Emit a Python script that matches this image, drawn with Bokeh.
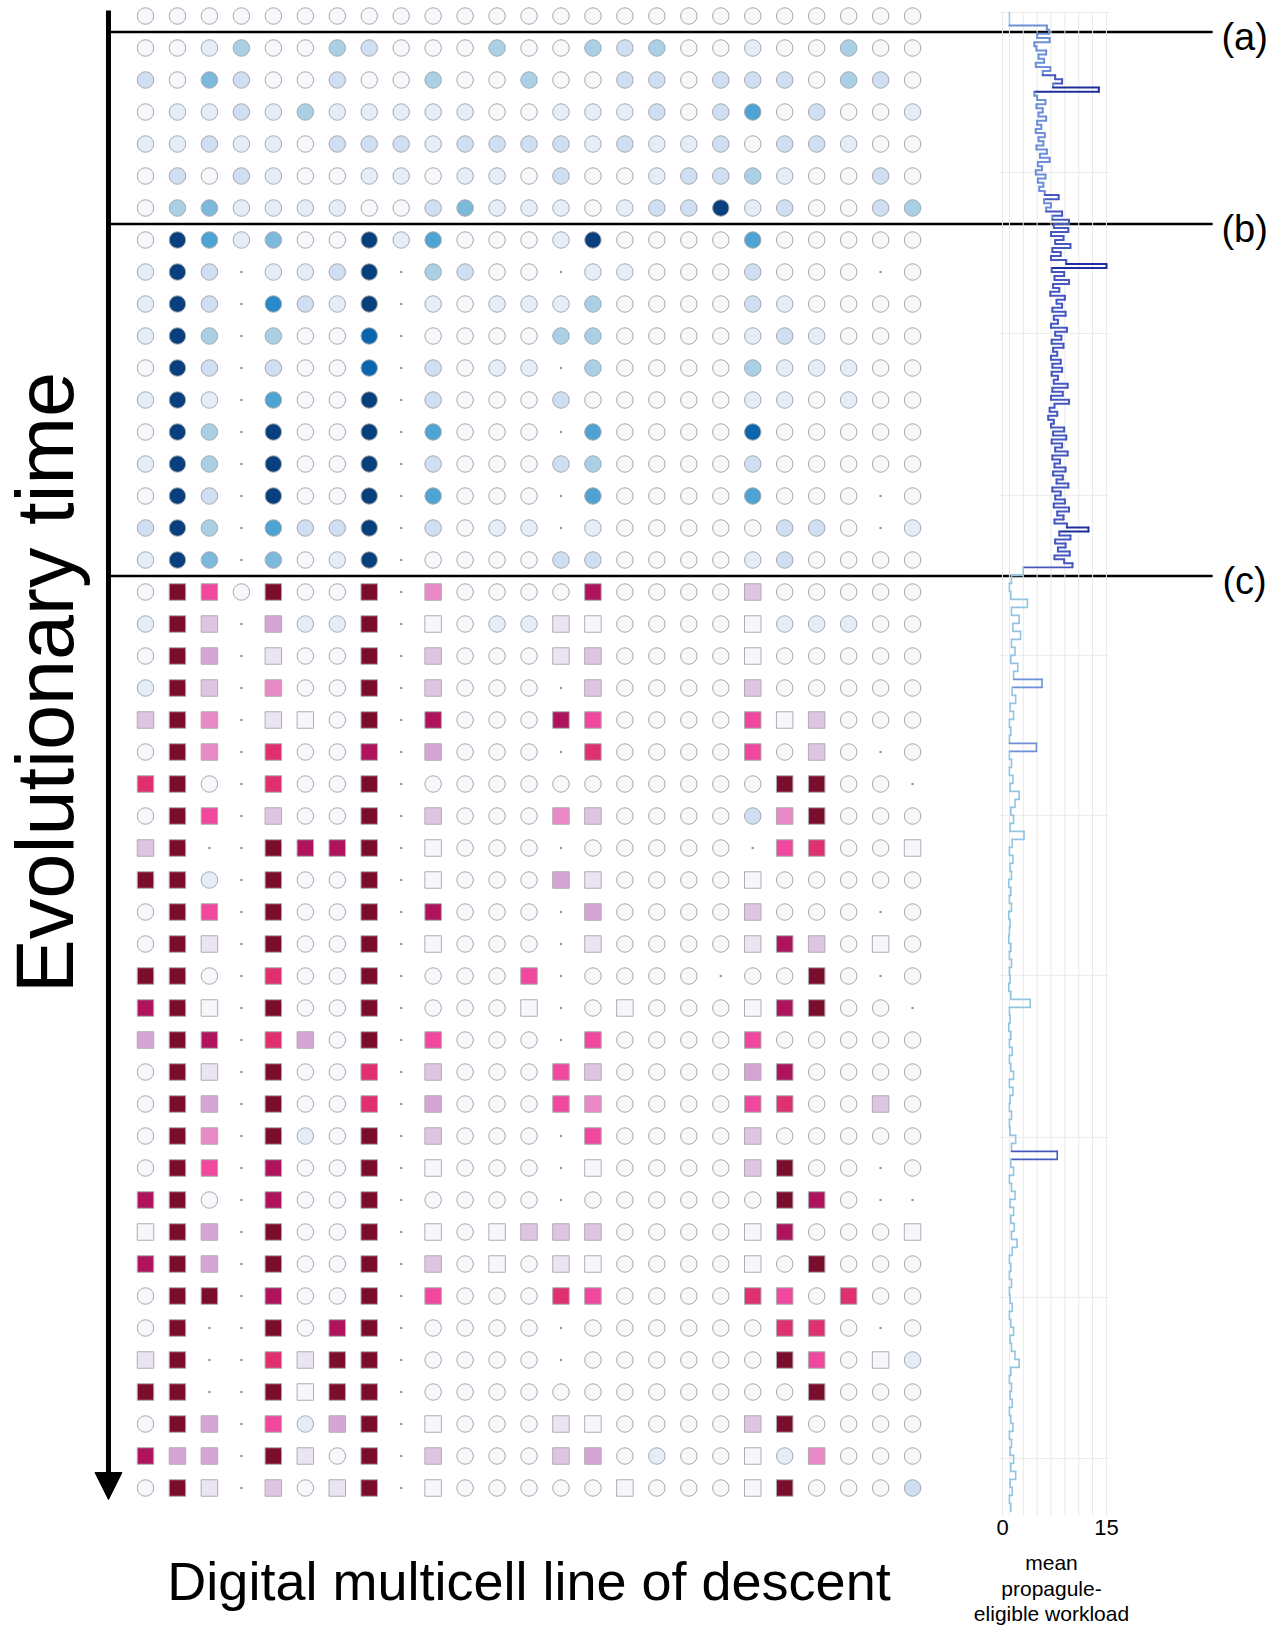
import numpy as np
from bokeh.plotting import figure
from bokeh.models import Range1d, Arrow, NormalHead, ColumnDataSource
from bokeh.core.properties import value
from bokeh.embed import file_html
from bokeh.resources import INLINE

# ---------------- data ----------------
# One string per row of the line of descent (top = earliest), 25 cells each.
# '0'-'8' : circle, blue level ; 'a'-'i' : square, pink level ; '.' : empty slot
cell_rows = [
    "00000 00000 00000 00000 00000",
    "00130 03200 03003 23001 00300",
    "20420 02003 00300 22022 20320",
    "01121 31111 10011 12025 02001",
    "11211 02221 22221 21120 22100",
    "02021 00110 11020 01223 10020",
    "03411 11002 41110 12281 20023",
    "08514 00815 00018 00005 00000",
    "182.1 128.3 200.1 10002 000.0",
    "182.6 218.1 01113 00002 10000",
    "183.3 007.0 00033 00001 21000",
    "082.2 007.2 011.3 00003 11100",
    "181.5 008.2 00020 00001 10100",
    "083.8 008.5 000.5 00007 00000",
    "183.8 008.2 00023 00002 00000",
    "082.8 008.5 000.5 00005 000.0",
    "283.5 228.2 011.1 00000 220.1",
    "184.4 018.0 00022 00001 20000",
    "0if0i 00i.e 0000h 0000c 00000",
    "1ic.d 11i.a 011ba 0000a 11100",
    "0id.b 00i.c 000bc 0000a 00000",
    "1ic.e 00i.c 000.c 0000c 00000",
    "cie.b a0i.h 000hf 0000f ac000",
    "0ie.g 00h.d 000.g 0000f 0c0.0",
    "gi0.g 00i.0 00000 00000 ii00.",
    "0if.c 00i.c 000ec 00002 ei000",
    "ci..i hhi.a 000.0 0000. fg00a",
    "ii1.i 00i.a 000db 0000a 00000",
    "0if.i 00i.h 000.d 0000c 000.0",
    "0ib.i 00i.a 000.b 0000b hc0a0",
    "ii0.g 00i.0 00f.0 000.0 0i0.0",
    "hia.i 00i.0 00a.0 a000a hi00.",
    "dih.g d0i.f 000.f 0000f 00000",
    "0ib.i 00g.c 000fc 0000d h0000",
    "0id.i 00g.d 000fe 0000f g00c0",
    "0ie.i 10i.c 000.f 0000c 00000",
    "0if.h 00i.a 000.a 0000c i00.0",
    "hi0.h 00i.0 000.0 00000 ih0..",
    "aid.i 00i.a 0accc 0000a h000a",
    "hid.i 00i.c 0a0ba 0000a 0i000",
    "0ii.h 00i.f 000gf 0000g f0g00",
    "0i..i 0hi.0 000.0 00000 gg0.0",
    "bi..g bii.0 000.0 00000 if0a1",
    "ii..i aii.0 00000 00000 0i000",
    "0id.f 1di.a 000ba 0000c i0000",
    "hdd.i b0i.c 000cd 0100a 1e000",
    "0ib.c 0bi.a 00000 a000a i0002",
]
section_first_rows = [1, 7, 18]
section_labels = ["(a)", "(b)", "(c)"]

blue_levels = {"0": "#f7f8fc", "1": "#e3eef9", "2": "#cddff1", "3": "#a8d0e7",
               "4": "#7cb9dd", "5": "#4fa3d4", "6": "#2a89c8", "7": "#0b66ae",
               "8": "#083f7c"}
pink_levels = {"a": "#f8f6fa", "b": "#ebe4f1", "c": "#ddc6e1", "d": "#d5a6d5",
               "e": "#ea89c4", "f": "#f0489b", "g": "#df306f", "h": "#ad1459",
               "i": "#7a0c2c"}

# mean propagule-eligible workload (right panel), per phase, top to bottom
workload_pre = [1.0]
workload_ab = [6.4, 6.7, 5.0, 6.8, 4.6, 4.9, 6.3, 5.2, 6.0, 4.8, 6.9, 5.8, 7.6, 8.6, 7.3, 13.9,
               4.6, 5.0, 6.2, 4.9, 5.8, 5.2, 6.3, 5.0, 5.6, 4.8, 6.1, 5.2, 5.9, 4.9, 6.4, 5.4,
               6.8, 5.1, 5.7, 4.8, 6.2, 5.1, 5.9, 5.3, 6.1, 8.1, 6.0, 7.0, 6.3, 8.6, 7.2, 9.6]
workload_bc = [7.4, 9.5, 7.0, 8.8, 7.6, 9.8, 7.2, 8.4, 7.0, 9.2, 15.0,
               7.1, 8.9, 7.5, 9.6, 7.3, 8.2, 6.9, 9.0, 7.8,
               8.6, 7.2, 9.1, 7.4, 8.0, 7.0, 9.3, 7.6, 8.5, 7.1,
               8.8, 7.3, 7.9, 7.0, 8.4, 7.2, 8.6, 7.1, 8.0, 7.4,
               9.4, 7.2, 8.7, 7.0, 9.6, 7.5, 6.8, 7.9, 6.6, 7.4,
               7.0, 8.9, 7.3, 9.2, 7.1, 8.6, 7.6, 9.4, 7.2, 8.3,
               7.5, 9.1, 7.3, 8.7, 7.8, 9.5, 7.2, 8.4, 7.6, 9.0,
               7.4, 9.6, 7.9, 8.8, 7.5, 9.3, 12.4,
               8.2, 9.8, 7.6, 9.1, 8.0, 9.7, 7.5, 8.9, 10.1]
workload_c = [3.0, 1.3, 1.0, 1.2, 3.6, 1.3, 2.4, 1.5, 2.6, 1.3,
              1.8, 1.2, 2.2, 1.6, 5.7, 1.4, 1.9, 1.1, 1.6, 1.0,
              1.2, 1.0, 4.9, 1.0, 1.3, 1.0, 1.5, 1.1, 2.4, 1.8,
              1.2, 1.6, 1.1, 3.1, 1.4, 1.0, 1.5, 1.1, 1.3, 0.9,
              1.2, 1.0, 1.3, 0.9, 1.1, 1.0, 0.9, 1.2, 1.0, 1.3,
              1.0, 1.1, 0.9, 1.2, 4.0, 1.0, 1.1, 0.9, 1.2, 1.0,
              1.4, 1.0, 1.2, 1.6, 1.0, 1.5, 1.1, 1.0, 1.3, 1.0,
              1.1, 1.9, 1.3, 7.9, 1.2, 1.6, 1.0, 1.3, 1.8, 1.1,
              1.6, 1.2, 1.7, 1.3, 2.1, 1.4, 1.0, 1.2, 1.0, 1.3,
              1.0, 1.1, 1.4, 1.0, 1.2, 1.6, 1.1, 1.3, 1.8, 2.4,
              1.2, 1.0, 1.3, 1.1, 1.4, 1.0, 1.2, 1.5, 1.0, 1.3,
              1.1, 1.6, 1.2, 1.9, 1.1, 1.4, 1.0, 1.2]
# phase boundaries on the time axis (in line-of-descent row units)
workload_time_bounds = [-0.11, 0.30, 6.5, 17.23, 46.73]
workload_tick_values = [0, 15]
workload_grid_values = [0, 1, 3, 5, 7, 9, 11, 13, 15]
workload_grid_times = [-0.11, 4.89, 9.92, 14.98, 19.98, 24.98, 29.98, 35.05, 40.05, 45.08]

# ---------------- layout ----------------
W, H = 1278, 1627
PX_COL, X0 = 31.96, 145.0      # canvas px per column, canvas x of column 0
PX_ROW, Y0 = 32.0, 15.5        # canvas px per row, canvas y of row 0
PX_V, V0 = 6.93, 1002.0        # right panel: px per workload unit, canvas x of 0
FONT = value("Liberation Sans")

p = figure(width=W, height=H, output_backend="svg", toolbar_location=None,
           x_range=Range1d(-X0 / PX_COL, (W - X0) / PX_COL),
           y_range=Range1d((H - Y0) / PX_ROW, -Y0 / PX_ROW),
           x_axis_location=None, y_axis_location=None,
           min_border=0, min_border_left=0, min_border_right=0,
           min_border_top=0, min_border_bottom=0)
p.extra_x_ranges = {"w": Range1d(-V0 / PX_V, (W - V0) / PX_V)}
p.grid.visible = False
p.outline_line_color = None
p.background_fill_color = "white"
p.border_fill_color = "white"

# ---------------- cells ----------------
cx, cy, cc, sx, sy, sc, dx, dy = [], [], [], [], [], [], [], []
for r, row in enumerate(cell_rows):
    for c, ch in enumerate(row.replace(" ", "")):
        if ch == ".":
            dx.append(c); dy.append(r)
        elif ch in blue_levels:
            cx.append(c); cy.append(r); cc.append(blue_levels[ch])
        else:
            sx.append(c); sy.append(r); sc.append(pink_levels[ch])

p.scatter(x=cx, y=cy, marker="circle", size=16.5, fill_color=cc,
          line_color="#a9a9ab", line_width=1)
p.scatter(x=sx, y=sy, marker="square", size=16.5, fill_color=sc,
          line_color="#b0aab4", line_width=1)
p.scatter(x=dx, y=dy, marker="circle", size=2.6, fill_color="#9a9a9a", line_color=None)

# ---------------- phase separators ----------------
sep_rows = [r - 0.5 for r in section_first_rows]
p.segment(x0=[-1.13] * 3, y0=sep_rows, x1=[33.39] * 3, y1=sep_rows,
          line_color="black", line_width=2.4)
p.text(x=[34.39] * 3, y=sep_rows, text=section_labels, text_font=FONT,
       text_font_size="38px", text_align="center", text_baseline="middle",
       y_offset=5, text_color="black")

# time arrow
p.add_layout(Arrow(end=NormalHead(size=27, fill_color="black", line_color="black"),
                   x_start=-1.158, y_start=-0.17, x_end=-1.158, y_end=46.36,
                   line_width=5, line_color="black"))

p.text(x=[-3.145], y=[20.83], text=["Evolutionary time"], angle=np.pi / 2,
       text_font=FONT, text_font_size="81px", text_align="center",
       text_baseline="middle", text_color="black")
p.text(x=[float(np.mean(range(25)))], y=[48.92], text=["Digital multicell line of descent"],
       text_font=FONT, text_font_size="54px", text_align="center",
       text_baseline="middle", text_color="black")

# ---------------- right panel ----------------
t_top, t_bot = workload_grid_times[0], 46.86
p.segment(x0=workload_grid_values, y0=[t_top] * len(workload_grid_values),
          x1=workload_grid_values, y1=[t_bot] * len(workload_grid_values),
          x_range_name="w", line_color="#e9e9e9", line_width=1)
p.segment(x0=[-0.4] * len(workload_grid_times), y0=workload_grid_times,
          x1=[15.4] * len(workload_grid_times), y1=workload_grid_times,
          x_range_name="w", line_color="#ececec", line_width=1)

LIGHT, MED, DARK, SPIKE = "#94c5e2", "#6d90d6", "#4658bf", "#1f2e9e"
phase_colors = ["#9ccbe6", MED, DARK, LIGHT]


def wl_color(v, base):
    if v >= 11:
        return SPIKE
    if v >= 7.5 and base != DARK:
        return DARK
    if v >= 4.5 and base in (LIGHT, "#9ccbe6"):
        return MED
    return base


xs, ys, cols, lws = [], [], [], []
prev = None
phases = [workload_pre, workload_ab, workload_bc, workload_c]
for vals, base, t0, t1 in zip(phases, phase_colors, workload_time_bounds[:-1],
                              workload_time_bounds[1:]):
    edges = np.linspace(t0, t1, len(vals) + 1)
    lw = 1.6 if base in (LIGHT, "#9ccbe6") else 2.0
    for k, v in enumerate(vals):
        if prev is not None:
            xs.append([prev, v]); ys.append([edges[k], edges[k]])
            cols.append(wl_color(max(prev, v), base)); lws.append(lw)
        xs.append([v, v]); ys.append([edges[k], edges[k + 1]])
        cols.append(wl_color(v, base)); lws.append(lw)
        prev = v

src = ColumnDataSource(dict(xs=xs, ys=ys, color=cols, lw=lws))
p.multi_line(xs="xs", ys="ys", line_color="color", line_width="lw", source=src,
             x_range_name="w", line_cap="round", line_join="round")

p.text(x=workload_tick_values, y=[47.23] * 2, text=[str(v) for v in workload_tick_values],
       x_range_name="w", text_font=FONT, text_font_size="22px", text_align="center",
       text_baseline="middle", text_color="black")
title_lines = ["mean", "propagule-", "eligible workload"]
p.text(x=[7.07] * 3, y=[48.33] * 3, text=title_lines, y_offset=[0, 25.5, 51],
       x_range_name="w", text_font=FONT, text_font_size="21px", text_align="center",
       text_baseline="middle", text_color="black")

open("out.html", "w").write(file_html(p, INLINE))
